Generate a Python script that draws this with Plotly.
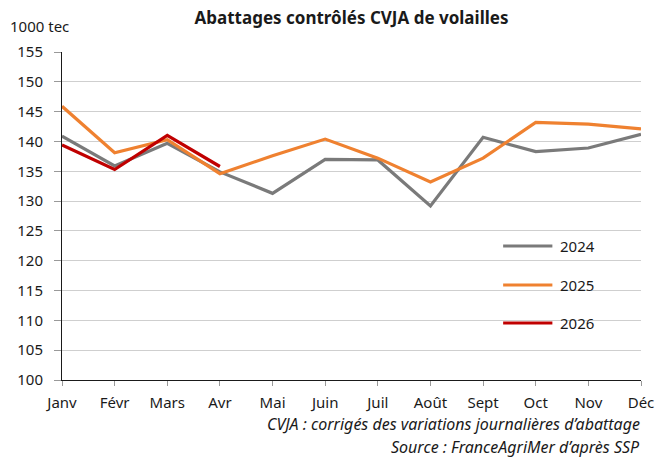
import plotly.graph_objects as go

months = ["Janv", "Févr", "Mars", "Avr", "Mai", "Juin", "Juil", "Août", "Sept", "Oct", "Nov", "Déc"]
y2024 = [140.9, 135.9, 139.7, 134.9, 131.3, 137.0, 136.9, 129.2, 140.7, 138.3, 138.9, 141.2]
y2025 = [145.9, 138.1, 140.3, 134.6, 137.6, 140.4, 137.2, 133.2, 137.2, 143.2, 142.9, 142.1]
y2026 = [139.4, 135.3, 141.0, 135.8]
yticks = [100, 105, 110, 115, 120, 125, 130, 135, 140, 145, 150, 155]

FONT = "Noto Sans"
W, H = 666, 458
L, R, T, B = 62, 16, 52, 78
pw, ph = W - L - R, H - T - B

def px(x):
    return (x - L) / pw

def py(y):
    return 1 - (y - T) / ph

fig = go.Figure()
series = [("2024", y2024, "#7a7a7a"), ("2025", y2025, "#ef8130"), ("2026", y2026, "#c00000")]
legend_rows = [246, 285, 323]
shapes, annotations = [], []
for (name, vals, col), ry in zip(series, legend_rows):
    fig.add_trace(go.Scatter(
        x=list(range(len(vals))), y=vals, mode="lines", name=name,
        line=dict(color=col, width=3.2), showlegend=False,
    ))
    shapes.append(dict(type="line", xref="paper", yref="paper", x0=px(510), x1=px(560),
                       y0=py(ry), y1=py(ry), line=dict(color=col, width=3.2)))
    annotations.append(dict(text=name, xref="paper", yref="paper", x=px(566), y=py(ry),
                            xanchor="left", yanchor="middle", showarrow=False,
                            font=dict(size=15, family=FONT, color="#1a1a1a")))

annotations += [
    dict(text="1000 tec", xref="paper", yref="paper", x=px(7), y=py(26),
         xanchor="left", yanchor="middle", showarrow=False, font=dict(size=15, family=FONT)),
    dict(text="<i>CVJA : corrigés des variations journalières d’abattage</i>", xref="paper", yref="paper",
         x=px(651), y=py(424), xanchor="right", yanchor="middle", showarrow=False,
         font=dict(size=16, family=FONT)),
    dict(text="<i>Source : FranceAgriMer d’après SSP</i>", xref="paper", yref="paper",
         x=px(651), y=py(447), xanchor="right", yanchor="middle", showarrow=False,
         font=dict(size=16, family=FONT)),
]

fig.update_layout(
    width=W, height=H,
    margin=dict(l=L, r=R, t=T, b=B),
    plot_bgcolor="white", paper_bgcolor="white",
    font=dict(family=FONT, size=15, color="#1a1a1a"),
    title=dict(text="<b>Abattages contrôlés CVJA de volailles</b>", x=0.5, xref="paper",
               xanchor="center", y=1 - 18 / H, yanchor="middle",
               font=dict(size=17, family=FONT, color="#1a1a1a")),
    showlegend=False,
    xaxis=dict(range=[0, 11], tickmode="array", tickvals=list(range(12)), ticktext=months,
               showgrid=False, zeroline=False, showline=True, linecolor="#1a1a1a", linewidth=1,
               ticks="outside", ticklen=5, tickcolor="#999999", tickfont=dict(size=15),
               ticklabelstandoff=4),
    yaxis=dict(range=[100, 155], tickmode="array", tickvals=yticks,
               showgrid=True, gridcolor="#cfcfcf", gridwidth=1, zeroline=False,
               showline=True, linecolor="#1a1a1a", linewidth=1,
               ticks="outside", ticklen=7, tickcolor="#999999", tickfont=dict(size=15),
               ticklabelstandoff=8),
    shapes=shapes,
    annotations=annotations,
)

fig.write_html("out.html", config={"displayModeBar": False},
               post_script="document.body.style.margin='0';document.body.style.overflow='hidden';")
